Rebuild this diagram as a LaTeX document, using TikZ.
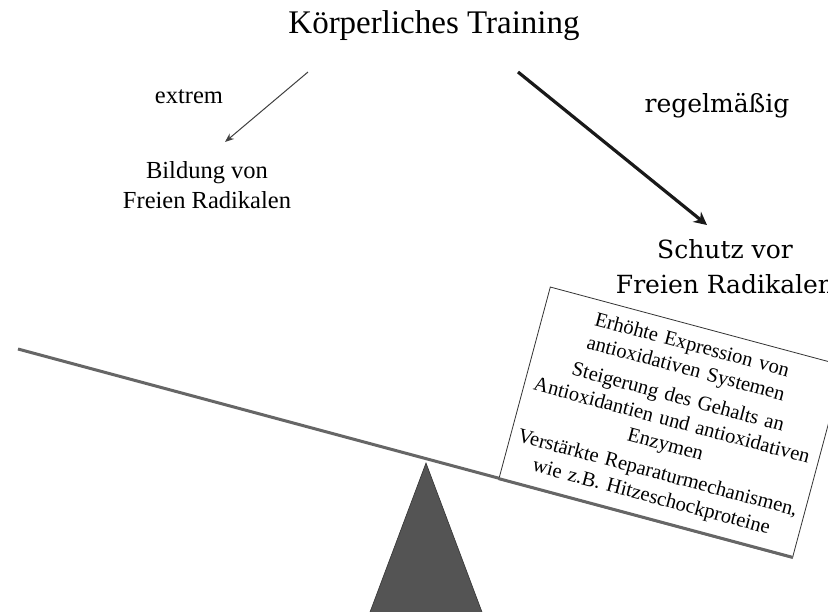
\documentclass[tikz,border=0pt]{standalone}
\usepackage{fontspec}
\setmainfont{Liberation Serif}
\newfontfamily\dvs{DejaVu Serif}
\usetikzlibrary{arrows.meta}
\tikzset{
  lbl/.style={inner sep=0pt, anchor=base, align=center},
  thinarrow/.style={draw=black!75, line width=1pt, -{Stealth[length=9pt,width=7pt]}},
  thickarrow/.style={draw=black!90, line width=3.2pt, -{Stealth[length=13pt,width=13pt]}},
  beam/.style={draw=black!60, line width=3pt},
  infobox/.style={draw=black!80, line width=0.8pt, fill=white, rotate=-15,
    minimum width=304pt, minimum height=198pt, text width=300pt, align=center,
    inner sep=2pt, font=\fontsize{20.5}{24.5}\selectfont},
  pivot/.style={fill=black!67, draw=black!80, line width=0.6pt}
}
\begin{document}
\begin{tikzpicture}[x=1pt,y=1pt]
\clip (0,0) rectangle (828,-611);
\fill[white] (0,0) rectangle (828,-611);
% texts
\node[lbl, font=\fontsize{33}{36}\selectfont] (title) at (434,-33) {Körperliches Training};
\node[lbl, font=\fontsize{24.5}{27}\selectfont] (extrem) at (189,-103) {extrem};
\node[lbl, font=\fontsize{24.5}{27}\selectfont] (bild1) at (207,-178) {Bildung von};
\node[lbl, font=\fontsize{24.5}{27}\selectfont] (bild2) at (207,-208) {Freien Radikalen};
\node[lbl, font=\dvs\fontsize{25}{28}\selectfont] (regel) at (717,-112) {regelmäßig};
\node[lbl, font=\dvs\fontsize{25}{28}\selectfont] (schutz1) at (725,-258) {Schutz vor};
\node[lbl, font=\dvs\fontsize{25}{28}\selectfont] (schutz2) at (725,-293) {Freien Radikalen};
% arrows
\coordinate (a1s) at (308,-72);
\coordinate (a1e) at (225,-142);
\coordinate (a2s) at (518,-72);
\coordinate (a2e) at (707,-225);
\draw[thinarrow] (a1s) -- (a1e);
\draw[thickarrow] (a2s) -- (a2e);
% beam and pivot
\coordinate (bl) at (18,-349);
\coordinate (br) at (792,-557);
\draw[beam] (bl) -- (br);
\coordinate (apex) at (426,-463);
\draw[pivot] (apex) -- (352,-660) -- (500,-660) -- cycle;
% box
\node[infobox] (box) at (671.5,-422) {%
Erhöhte Expression von\\ antioxidativen Systemen\\[5pt]
Steigerung des Gehalts an\\ Antioxidantien und antioxidativen\\ Enzymen\\[5pt]
Verstärkte Reparaturmechanismen,\\ wie z.B. Hitzeschockproteine};
\draw[beam] (box.south west) -- (box.south east);
\end{tikzpicture}
\end{document}
